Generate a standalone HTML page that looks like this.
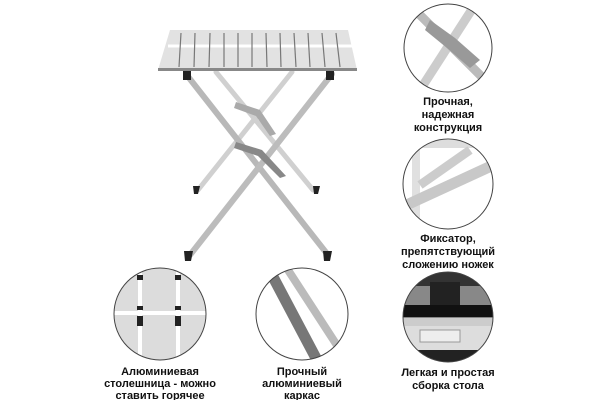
<html><body style="margin:0;background:#fff">
<svg width="600" height="400" viewBox="0 0 600 400" xmlns="http://www.w3.org/2000/svg" style="display:block">
<defs>
<clipPath id="c1"><circle cx="448" cy="48" r="44"/></clipPath>
<clipPath id="c2"><circle cx="448" cy="184" r="45"/></clipPath>
<clipPath id="c3"><circle cx="448" cy="317" r="45"/></clipPath>
<clipPath id="c4"><circle cx="160" cy="314" r="46"/></clipPath>
<clipPath id="c5"><circle cx="302" cy="314" r="46"/></clipPath>
</defs>
<g stroke-linecap="round">
<line x1="216" y1="72" x2="313" y2="190" stroke="#d0d0d0" stroke-width="5"/>
<line x1="292" y1="72" x2="198" y2="190" stroke="#d0d0d0" stroke-width="5"/>
<line x1="186" y1="74" x2="328" y2="255" stroke="#b8b8b8" stroke-width="6"/>
<line x1="332" y1="74" x2="190" y2="255" stroke="#bcbcbc" stroke-width="6"/>
</g>
<path d="M236 102 L260 110 L276 134 L270 136 L256 116 L234 108Z" fill="#aaa"/>
<path d="M236 142 L262 150 L286 176 L280 178 L258 156 L234 148Z" fill="#888"/>
<rect x="183" y="70" width="8" height="10" fill="#222"/>
<rect x="326" y="70" width="8" height="10" fill="#222"/>
<path d="M193 186 h7 l-2 8 h-4z" fill="#222"/><path d="M313 186 h7 l-2 8 h-4z" fill="#222"/>
<path d="M184 251 h9 l-2 10 h-6z" fill="#222"/><path d="M323 251 h9 l-2 10 h-6z" fill="#222"/>
<path d="M170 30 H348 L357 70 H158Z" fill="#e2e2e2"/>
<rect x="158" y="68" width="199" height="3" fill="#888"/>
<line x1="168" y1="46" x2="352" y2="46" stroke="#fff" stroke-width="3"/>
<g stroke="#777" stroke-width="1.2">
<line x1="181" y1="33" x2="179" y2="67"/><line x1="195" y1="33" x2="194" y2="67"/><line x1="210" y1="33" x2="209" y2="67"/><line x1="224" y1="33" x2="224" y2="67"/><line x1="238" y1="33" x2="238" y2="67"/><line x1="252" y1="33" x2="252" y2="67"/><line x1="266" y1="33" x2="267" y2="67"/><line x1="280" y1="33" x2="281" y2="67"/><line x1="294" y1="33" x2="296" y2="67"/><line x1="308" y1="33" x2="310" y2="67"/><line x1="322" y1="33" x2="325" y2="67"/><line x1="336" y1="33" x2="340" y2="67"/>
</g>
<g clip-path="url(#c1)">
<rect x="400" y="0" width="100" height="100" fill="#fff"/>
<line x1="478" y1="0" x2="420" y2="90" stroke="#ccc" stroke-width="9"/>
<line x1="415" y1="10" x2="485" y2="80" stroke="#bbb" stroke-width="9"/>
<path d="M430 20 L455 38 L480 60 L470 68 L447 48 L425 30Z" fill="#999"/>
</g>
<circle cx="448" cy="48" r="44" fill="none" stroke="#444" stroke-width="1"/>
<g clip-path="url(#c2)">
<rect x="400" y="138" width="100" height="95" fill="#fff"/>
<rect x="400" y="140" width="100" height="8" fill="#ddd"/>
<rect x="412" y="140" width="8" height="95" fill="#e0e0e0"/>
<line x1="420" y1="185" x2="470" y2="150" stroke="#ccc" stroke-width="9"/>
<line x1="400" y1="208" x2="500" y2="162" stroke="#c8c8c8" stroke-width="11"/>
</g>
<circle cx="448" cy="184" r="45" fill="none" stroke="#444" stroke-width="1"/>
<g clip-path="url(#c3)">
<rect x="400" y="270" width="100" height="95" fill="#888"/>
<rect x="400" y="272" width="100" height="14" fill="#333"/>
<rect x="430" y="282" width="30" height="25" fill="#222"/>
<rect x="400" y="305" width="100" height="12" fill="#111"/>
<rect x="400" y="318" width="100" height="8" fill="#ccc"/>
<rect x="400" y="326" width="100" height="24" fill="#ddd"/>
<rect x="420" y="330" width="40" height="12" fill="#eee" stroke="#999"/>
<rect x="400" y="350" width="100" height="15" fill="#222"/>
</g>
<circle cx="448" cy="317" r="45" fill="none" stroke="#444" stroke-width="1"/>
<g clip-path="url(#c4)">
<rect x="110" y="265" width="100" height="100" fill="#dcdcdc"/>
<rect x="138" y="265" width="4" height="100" fill="#fff"/>
<rect x="176" y="265" width="4" height="100" fill="#fff"/>
<rect x="110" y="311" width="100" height="4" fill="#fff"/>
<rect x="137" y="275" width="6" height="5" fill="#222"/><rect x="175" y="275" width="6" height="5" fill="#222"/>
<rect x="137" y="306" width="6" height="4" fill="#222"/><rect x="175" y="306" width="6" height="4" fill="#222"/>
<rect x="137" y="316" width="6" height="10" fill="#222"/><rect x="175" y="316" width="6" height="10" fill="#222"/>
</g>
<circle cx="160" cy="314" r="46" fill="none" stroke="#444" stroke-width="1"/>
<g clip-path="url(#c5)">
<rect x="250" y="265" width="110" height="100" fill="#fff"/>
<line x1="272" y1="275" x2="318" y2="362" stroke="#777" stroke-width="11"/>
<line x1="288" y1="270" x2="340" y2="350" stroke="#bbb" stroke-width="8"/>
</g>
<circle cx="302" cy="314" r="46" fill="none" stroke="#444" stroke-width="1"/>
<g font-family="Liberation Sans, DejaVu Sans, sans-serif" font-weight="bold" font-size="11" fill="#111" text-anchor="middle">
<text x="448" y="105">Прочная,</text><text x="448" y="118">надежная</text><text x="448" y="131">конструкция</text>
<text x="448" y="242">Фиксатор,</text><text x="448" y="255">препятствующий</text><text x="448" y="268">сложению ножек</text>
<text x="448" y="376">Легкая и простая</text><text x="448" y="389">сборка стола</text>
<text x="160" y="375">Алюминиевая</text><text x="160" y="387">столешница - можно</text><text x="160" y="399">ставить горячее</text>
<text x="302" y="375">Прочный</text><text x="302" y="387">алюминиевый</text><text x="302" y="399">каркас</text>
</g>
</svg>
</body></html>
